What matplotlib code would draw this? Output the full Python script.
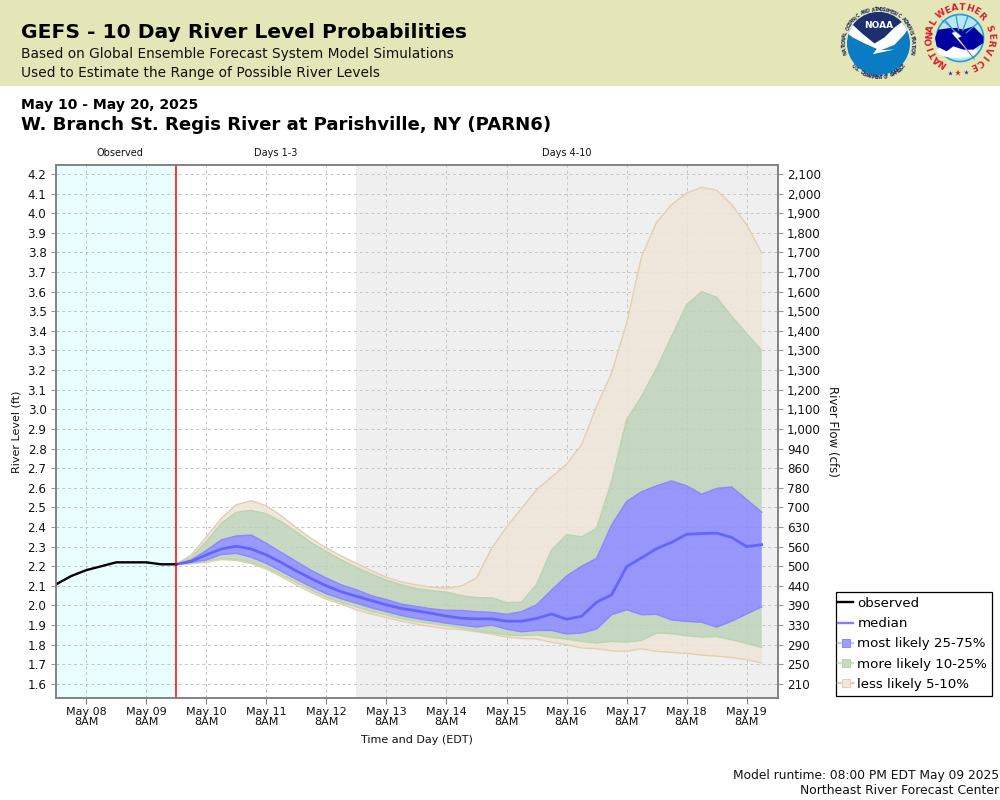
import numpy as np
import pandas as pd
import matplotlib
matplotlib.use("Agg")
import matplotlib.pyplot as plt
from matplotlib.lines import Line2D
from matplotlib.patches import Circle, Rectangle, Polygon, Ellipse

plt.rcParams['font.family'] = ['DejaVu Sans']

observed = [2.108, 2.15, 2.18, 2.20, 2.22, 2.22, 2.22, 2.21, 2.21]
median = [2.21, 2.225, 2.258, 2.288, 2.302, 2.288, 2.258, 2.219, 2.176, 2.137,
          2.10, 2.07, 2.047, 2.025, 2.003, 1.985, 1.973, 1.96, 1.946, 1.935,
          1.932, 1.932, 1.92, 1.92, 1.934, 1.957, 1.93, 1.945, 2.017, 2.054,
          2.198, 2.243, 2.29, 2.322, 2.363, 2.367, 2.369, 2.347, 2.30, 2.31]
p75 = [2.21, 2.232, 2.28, 2.334, 2.354, 2.359, 2.317, 2.27, 2.224, 2.178,
       2.14, 2.105, 2.08, 2.05, 2.03, 2.007, 1.995, 1.983, 1.975, 1.975,
       1.968, 1.965, 1.955, 1.968, 2.003, 2.078, 2.15, 2.20, 2.24, 2.41,
       2.53, 2.58, 2.61, 2.635, 2.61, 2.567, 2.597, 2.604, 2.54, 2.475]
p25 = [2.21, 2.22, 2.232, 2.26, 2.266, 2.246, 2.215, 2.175, 2.134, 2.095,
       2.06, 2.034, 2.012, 1.988, 1.969, 1.949, 1.934, 1.922, 1.91, 1.90,
       1.89, 1.90, 1.88, 1.866, 1.873, 1.873, 1.855, 1.86, 1.88, 1.953,
       1.978, 1.953, 1.955, 1.926, 1.919, 1.915, 1.89, 1.92, 1.957, 1.993]
p90 = [2.21, 2.246, 2.326, 2.419, 2.475, 2.485, 2.468, 2.427, 2.376, 2.32,
       2.275, 2.232, 2.195, 2.16, 2.13, 2.105, 2.087, 2.076, 2.068, 2.05,
       2.04, 2.04, 2.015, 2.017, 2.108, 2.283, 2.361, 2.35, 2.393, 2.634,
       2.948, 3.067, 3.21, 3.372, 3.534, 3.60, 3.571, 3.474, 3.386, 3.30]
p10 = [2.21, 2.215, 2.227, 2.24, 2.236, 2.22, 2.193, 2.156, 2.117, 2.078,
       2.042, 2.015, 1.993, 1.969, 1.952, 1.932, 1.918, 1.908, 1.896, 1.885,
       1.871, 1.861, 1.85, 1.846, 1.85, 1.837, 1.829, 1.817, 1.808, 1.817,
       1.813, 1.822, 1.86, 1.856, 1.846, 1.839, 1.842, 1.825, 1.806, 1.786]
p95 = [2.21, 2.258, 2.35, 2.444, 2.514, 2.534, 2.508, 2.457, 2.397, 2.341,
       2.293, 2.252, 2.215, 2.178, 2.144, 2.12, 2.105, 2.093, 2.088, 2.10,
       2.14, 2.29, 2.40, 2.495, 2.59, 2.655, 2.72, 2.82, 3.016, 3.185,
       3.44, 3.78, 3.954, 4.044, 4.103, 4.132, 4.117, 4.044, 3.94, 3.797]
p05 = [2.21, 2.212, 2.22, 2.234, 2.23, 2.214, 2.185, 2.147, 2.105, 2.066,
       2.032, 2.007, 1.978, 1.957, 1.938, 1.92, 1.905, 1.893, 1.881, 1.877,
       1.866, 1.854, 1.839, 1.832, 1.829, 1.813, 1.80, 1.783, 1.78, 1.769,
       1.766, 1.78, 1.766, 1.761, 1.756, 1.747, 1.742, 1.734, 1.724, 1.707]

level_ticks = [4.2, 4.1, 4.0, 3.9, 3.8, 3.7, 3.6, 3.5, 3.4, 3.3, 3.2, 3.1, 3.0, 2.9,
               2.8, 2.7, 2.6, 2.5, 2.4, 2.3, 2.2, 2.1, 2.0, 1.9, 1.8, 1.7, 1.6]
flow_labels = ["2,100", "2,000", "1,900", "1,800", "1,700", "1,700", "1,600", "1,500",
               "1,400", "1,300", "1,300", "1,200", "1,100", "1,000", "940", "860",
               "780", "700", "630", "560", "500", "440", "390", "330", "290", "250", "210"]
day_labels = ["May 08", "May 09", "May 10", "May 11", "May 12", "May 13",
              "May 14", "May 15", "May 16", "May 17", "May 18", "May 19"]
legend_labels = ["observed", "median", "most likely 25-75%", "more likely 10-25%", "less likely 5-10%"]

obs_t = pd.date_range("2025-05-07 20:00", periods=len(observed), freq="6h")
fc_t = pd.date_range("2025-05-09 20:00", periods=len(median), freq="6h")
day_t = pd.date_range("2025-05-08 08:00", periods=len(day_labels), freq="D")
gray_start = pd.Timestamp("2025-05-12 20:00")
t_left = pd.Timestamp("2025-05-07 19:45")
t_right = pd.Timestamp("2025-05-19 20:30")

W, H = 1000, 800
fig = plt.figure(figsize=(W / 100, H / 100), dpi=100, facecolor="white")

def px(x, y):
    return x / W, 1 - y / H

fig.add_artist(Rectangle((0, 1 - 86 / H), 1, 86 / H, transform=fig.transFigure,
                         facecolor="#E5E6B8", edgecolor="none", zorder=0))

ax = fig.add_axes([55.5 / W, 1 - 697.5 / H, (778 - 55.5) / W, (697.5 - 164.5) / H])
ax.set_xlim(t_left, t_right)
ax.set_ylim(1.531, 4.248)
ax.set_facecolor("white")
ax.axvspan(t_left, fc_t[0], color="#E9FFFF", lw=0, zorder=0)
ax.axvspan(gray_start, t_right, color="#EFEFEF", lw=0, zorder=0)
ax.set_yticks(level_ticks)
ax.set_yticklabels([f"{v:.1f}" for v in level_ticks])
ax.set_xticks(day_t)
ax.set_xticklabels([f"{d}\n8AM" for d in day_labels], fontsize=8, linespacing=1.05)
ax.grid(True, color="#C4C4C4", ls=(0, (3, 3)), lw=0.7, zorder=1)
ax.set_axisbelow(True)
ax.tick_params(axis="y", labelsize=8.6, length=3.5, width=0.8, color="#999999", pad=3, labelcolor="#111111")
ax.tick_params(axis="x", length=4, width=0.8, color="#808080", pad=2.5, labelcolor="#111111")
for s in ax.spines.values():
    s.set_color("#808080")
    s.set_linewidth(1.1)

tan, green, blue = "#EFE5D8", "#BED2B9", "#8888FE"
tan_e, green_e, blue_e = "#E5CDB0", "#BAD5AD", "#8888FF"
a = 0.85
ax.fill_between(fc_t, p90, p95, facecolor=tan, edgecolor="none", alpha=a, zorder=2)
ax.fill_between(fc_t, p05, p10, facecolor=tan, edgecolor="none", alpha=a, zorder=2)
ax.fill_between(fc_t, p75, p90, facecolor=green, edgecolor="none", alpha=a, zorder=2)
ax.fill_between(fc_t, p10, p25, facecolor=green, edgecolor="none", alpha=a, zorder=2)
ax.fill_between(fc_t, p25, p75, facecolor=blue, edgecolor="none", alpha=a, zorder=2)
for s, c in ((p95, tan_e), (p05, tan_e), (p90, green_e), (p10, green_e), (p75, blue_e), (p25, blue_e)):
    ax.plot(fc_t, s, color=c, lw=1.0, zorder=3)
ax.plot(fc_t, median, color="#6464FF", lw=2.0, zorder=4, solid_joinstyle="round")
ax.plot(obs_t, observed, color="black", lw=1.7, zorder=5)
ax.axvline(fc_t[0], color="#FF0000", lw=1.1, zorder=6)

ax2 = ax.twinx()
ax2.set_ylim(ax.get_ylim())
ax2.set_yticks(level_ticks)
ax2.set_yticklabels(flow_labels)
ax2.tick_params(axis="y", labelsize=8.6, length=3.5, width=0.8, color="#999999", pad=3, labelcolor="#111111")
for s in ax2.spines.values():
    s.set_color("#808080")
    s.set_linewidth(1.1)

handles = [
    Line2D([], [], color="black", lw=1.7),
    Line2D([], [], color="#8080FF", lw=1.7),
    Line2D([], [], color="#C4C4FF", lw=1.7, marker="s", ms=6, mfc="#9D9DFB", mec="#8888FF", mew=0.7),
    Line2D([], [], color="#CFE0C6", lw=1.7, marker="s", ms=6, mfc="#C8D8C4", mec="#BAD5AD", mew=0.7),
    Line2D([], [], color="#E5CDB0", lw=1.7, marker="s", ms=6, mfc="#EFE7DD", mec="#E5CDB0", mew=0.7),
]
fig.add_artist(Rectangle(px(836, 695.5), 156 / W, 104 / H, transform=fig.transFigure,
                         facecolor="white", edgecolor="black", lw=0.9, zorder=2))
leg = fig.legend(handles, legend_labels, loc="upper left",
                 bbox_to_anchor=px(838, 597), bbox_transform=fig.transFigure,
                 fontsize=9.6, frameon=False, borderpad=0, labelspacing=0.54,
                 handlelength=1.15, handletextpad=0.3, borderaxespad=0)
leg.set_zorder(3)

def T(x, y, s, **kw):
    kw.setdefault("va", "center")
    kw.setdefault("color", "black")
    fig.text(*px(x, y), s, **kw)

T(21, 33, "GEFS - 10 Day River Level Probabilities", fontsize=14.6, fontweight="bold")
T(21, 54, "Based on Global Ensemble Forecast System Model Simulations", fontsize=9.9, color="#111111")
T(21, 73, "Used to Estimate the Range of Possible River Levels", fontsize=9.9, color="#111111")
T(21, 105, "May 10 - May 20, 2025", fontsize=10.05, fontweight="bold")
T(21, 125, "W. Branch St. Regis River at Parishville, NY (PARN6)", fontsize=13.1, fontweight="bold")
T(120, 153.5, "Observed", fontsize=7, ha="center", color="#111111")
T(276, 153.5, "Days 1-3", fontsize=7, ha="center", color="#111111")
T(567, 153.5, "Days 4-10", fontsize=7, ha="center", color="#111111")
T(17, 432, "River Level (ft)", fontsize=8, rotation=90, ha="center", color="#111111")
T(832, 431, "River Flow (cfs)", fontsize=8.5, rotation=-90, ha="center", color="#111111")
T(417, 740, "Time and Day (EDT)", fontsize=8, ha="center", color="#111111")
T(999, 775, "Model runtime: 08:00 PM EDT May 09 2025", fontsize=8.85, ha="right", color="#111111")
T(999, 791, "Northeast River Forecast Center", fontsize=8.95, ha="right", color="#111111")

# logos, in a pixel-scaled overlay; shape offsets are in 1/3 pixel from the emblem centre
lg = fig.add_axes([0, 0, 1, 1], facecolor="none", zorder=10)
lg.set_xlim(0, W)
lg.set_ylim(H, 0)
lg.axis("off")

def ring_text(cx, cy, r, s, a0, a1, flip=False, **kw):
    for ch, ang in zip(s, np.linspace(a0, a1, len(s))):
        t = np.radians(ang)
        rot = ang + 90 if flip else ang - 90
        lg.text(cx + r * np.cos(t), cy - r * np.sin(t), ch, rotation=rot,
                ha="center", va="center", rotation_mode="anchor", **kw)

def shape(cx, cy, pts, **kw):
    p = Polygon([(cx + x / 3, cy + y / 3) for x, y in pts], **kw)
    lg.add_patch(p)
    return p

# NOAA
nx, ny = 878.5, 43.5
disc = Circle((nx, ny), 31.5, fc="#0A7CC4", ec="none")
lg.add_patch(disc)
navy = shape(nx, ny, [(-100, -62), (-82, -60), (-47, -28), (-12, 0), (18, -18), (48, -48),
                      (78, -70), (100, -75), (100, -110), (-100, -110)], fc="#1E2F6E", ec="none")
navy.set_clip_path(disc)
bird = shape(nx, ny, [(-100, -62), (-82, -60), (-47, -28), (-12, 0), (18, -18), (48, -48),
                      (78, -70), (100, -70), (93, -53), (78, -28), (48, 4), (8, 20), (48, 18),
                      (-17, 32), (-5, 16), (-37, 2), (-77, -18), (-100, -36)], fc="white", ec="none")
bird.set_clip_path(disc)
lg.text(nx, ny - 18.5, "NOAA", color="white", fontsize=6.5, fontweight="bold", ha="center", va="center")
ring_text(nx, ny, 34, "NATIONAL OCEANIC AND ATMOSPHERIC ADMINISTRATION", 195, -15,
          fontsize=3.4, color="#24305E", fontweight="bold")
ring_text(nx, ny, 34, "U.S. DEPARTMENT OF COMMERCE", 222, 318, flip=True,
          fontsize=3.4, color="#24305E", fontweight="bold")

# NWS
wx, wy = 960, 38
lg.add_patch(Circle((wx, wy), 23.5, fc="#BEE6F2", ec="#1F9ED8", lw=1.2))
for ang in (70, 100, 130, 40):
    t = np.radians(ang)
    lg.plot([wx + 8 * np.cos(t), wx + 23 * np.cos(t)], [wy - 8 * np.sin(t), wy - 23 * np.sin(t)],
            color="#1F9ED8", lw=0.9)
lg.add_patch(Ellipse((wx - 3, wy + 13), 40, 14, fc="white", ec="none"))
shape(wx, wy, [(-75, 0), (-65, -25), (-30, -30), (-10, -30), (10, -25), (40, -35), (70, -5), (70, 15),
               (40, 35), (10, 35), (-20, 25), (-40, 40), (-70, 25)], fc="#0000A0", ec="none")
shape(wx, wy, [(-55, -55), (-15, -20), (-25, -15), (45, 65), (-5, 0), (5, -5), (-55, -55)],
      fc="white", ec="#555577", lw=0.3)
red = dict(fontsize=6.6, color="#D6202A", fontweight="bold")
ring_text(wx, wy, 30.5, "NATIONAL", 236, 150, **red)
ring_text(wx, wy, 30.5, "WEATHER", 128, 45, **red)
ring_text(wx, wy, 30.5, "SERVICE", 18, -65, **red)
lg.plot([wx - 10], [wy + 34.5], marker="*", ms=3.5, color="#2030A0", mew=0)
lg.plot([wx - 2], [wy + 35], marker="*", ms=4.5, color="#D6202A", mew=0)
lg.plot([wx + 6], [wy + 34], marker="*", ms=3.5, color="#2030A0", mew=0)

fig.savefig("out.png", dpi=100, facecolor="white")
